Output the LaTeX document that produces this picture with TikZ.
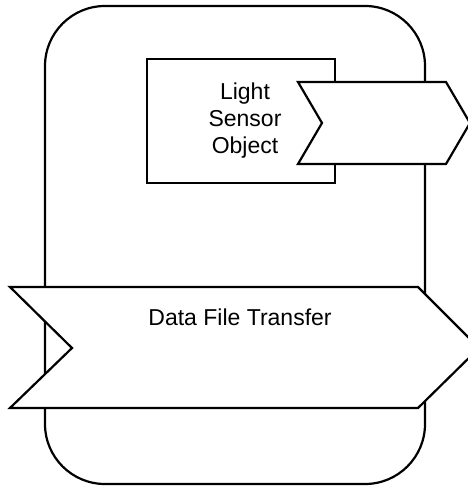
\documentclass[tikz,border=0pt]{standalone}
\usepackage{fontspec}
\setmainfont{Liberation Sans}
\begin{document}
\begin{tikzpicture}[x=1pt,y=-1pt,
  outline/.style={draw=black,line width=2.2pt,fill=white,line join=miter},
  lbl/.style={font=\fontsize{23}{27}\selectfont,align=center,inner sep=0pt}]
\useasboundingbox (0,0) rectangle (468,487);
\clip (0,0) rectangle (468,487);
% container
\draw[outline,rounded corners=60pt] (45,6) rectangle (425,484);
% light sensor object box
\draw[outline] (147,59) rectangle (335,183);
\node[lbl] (lso) at (245,121) {Light\\Sensor\\Object};
% small chevron (output)
\draw[outline] (298,82) -- (446,82) -- (470,123) -- (446,164) -- (298,164) -- (322,123) -- cycle;
% big chevron
\draw[outline] (10,287) -- (418,287) -- (479,348) -- (418,408) -- (10,408) -- (72,348) -- cycle;
\node[lbl] (dft) at (240,317) {Data File Transfer};
\end{tikzpicture}
\end{document}
